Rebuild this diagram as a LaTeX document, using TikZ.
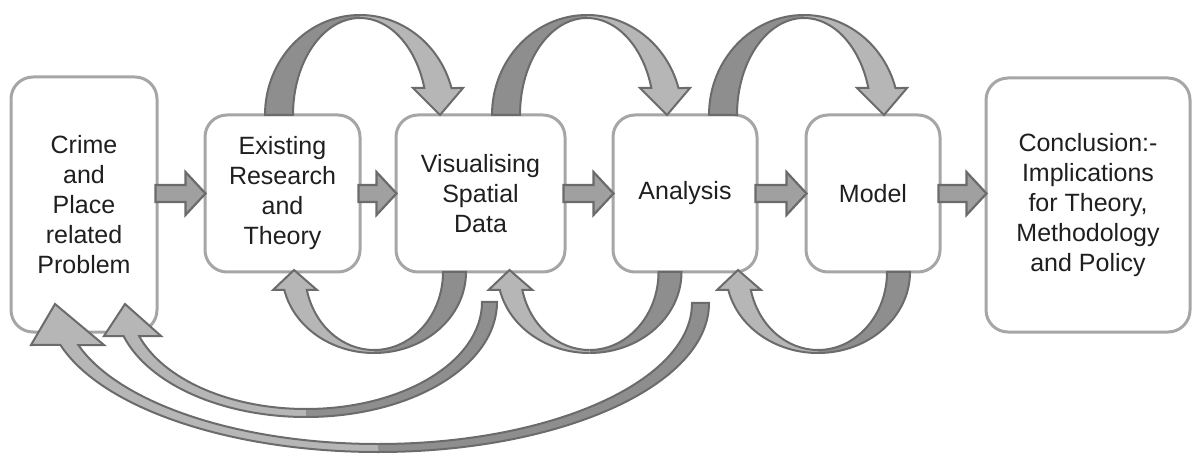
\documentclass[tikz,border=0pt]{standalone}
\usepackage{fontspec}
\setmainfont{Liberation Sans}
\usepackage{xcolor}
\usetikzlibrary{calc}

\definecolor{boxgray}{HTML}{A6A6A6}
\definecolor{edgegray}{HTML}{6B6B6B}
\definecolor{blockfill}{HTML}{A0A0A0}
\definecolor{ribbonDark}{HTML}{8E8E8E}
\definecolor{ribbonLight}{HTML}{B6B6B6}

\begin{document}
\begin{tikzpicture}[x=0.5pt,y=0.5pt,
blockarrow/.style={draw=edgegray,line width=1.1pt,fill=blockfill},
backband/.style={draw=edgegray,line width=1pt,fill=ribbonDark},
frontband/.style={draw=edgegray,line width=1pt,fill=ribbonLight}]
\tikzstyle{box}=[rectangle,draw=boxgray,line width=1.5pt,rounded corners=11pt,fill=white,align=center,text=black!88,font=\fontsize{12.5}{15}\selectfont]
\useasboundingbox (0,0) rectangle (1197,455);

% boxes
\node[box,minimum width=73pt,minimum height=127.5pt] (crime) at (84,250.5) {Crime\\and\\Place\\related\\Problem};
\node[box,minimum width=77.5pt,minimum height=78.5pt] (existing) at (282.5,261.5) {Existing\\Research\\and\\Theory};
\node[box,minimum width=84.5pt,minimum height=78.5pt] (visual) at (480.5,261.5) {Visualising\\Spatial\\Data};
\node[box,minimum width=72pt,minimum height=78.5pt] (analysis) at (685,261.5) {Analysis};
\node[box,minimum width=67pt,minimum height=78.5pt] (model) at (873,261.5) {Model};
\node[box,minimum width=102pt,minimum height=127pt] (concl) at (1088,250) {Conclusion:-\\Implications\\for Theory,\\Methodology\\and Policy};
\coordinate (axis) at (0,261.5);

% straight arrows
\foreach \a/\b in {crime/existing,existing/visual,visual/analysis,analysis/model,model/concl}
  \draw[blockarrow] ($(\a.east |- axis)+(-3,8.5)$) -- ($(\b.west |- axis)+(-18,8.5)$) -- ($(\b.west |- axis)+(-18,21.5)$) -- ($(\b.west |- axis)+(2,0)$) -- ($(\b.west |- axis)+(-18,-21.5)$) -- ($(\b.west |- axis)+(-18,-8.5)$) -- ($(\a.east |- axis)+(-3,-8.5)$) -- cycle;

% loops over the top
\foreach \cx in {360,587,804}{
  \draw[backband] (\cx,440) arc[start angle=90,end angle=180,x radius=95,y radius=100] -- (\cx-67,340) arc[start angle=180,end angle=90,x radius=67,y radius=97];
  \draw[frontband] (\cx,440) arc[start angle=90,end angle=15.66,x radius=95,y radius=100] -- (\cx+103,367) -- (\cx+80,340) -- (\cx+53,367) -- (\cx+64.35,367) arc[start angle=16.16,end angle=90,x radius=67,y radius=97];
}

% loops underneath
\foreach \cx in {374,589.5,818}{
  \draw[backband] (\cx,102) arc[start angle=-90,end angle=0,x radius=92,y radius=81] -- (\cx+69,183) arc[start angle=0,end angle=-90,x radius=69,y radius=78];
  \draw[frontband] (\cx,102) arc[start angle=-90,end angle=-167.16,x radius=92,y radius=81] -- (\cx-101,165) -- (\cx-80,185) -- (\cx-57,165) -- (\cx-67.14,165) arc[start angle=-166.66,end angle=-90,x radius=69,y radius=78];
}

% long returns to the problem box
\draw[backband] (306,38) arc[start angle=-90,end angle=0,x radius=191,y radius=115] -- (482,153) arc[start angle=0,end angle=-90,x radius=176,y radius=107];
\draw[frontband] (306,38) arc[start angle=-90,end angle=-162.8,x radius=191,y radius=115] -- (104,119) -- (125,151) -- (161,119) -- (139.1,119) arc[start angle=-161.47,end angle=-90,x radius=176,y radius=107];
\draw[backband] (378,3) arc[start angle=-90,end angle=0,x radius=331,y radius=149] -- (692,152) arc[start angle=0,end angle=-90,x radius=314,y radius=141];
\draw[frontband] (378,3) arc[start angle=-90,end angle=-163.63,x radius=331,y radius=149] -- (31,110) -- (55,151) -- (104,110) -- (78.3,110) arc[start angle=-162.67,end angle=-90,x radius=314,y radius=141];
\end{tikzpicture}
\end{document}
